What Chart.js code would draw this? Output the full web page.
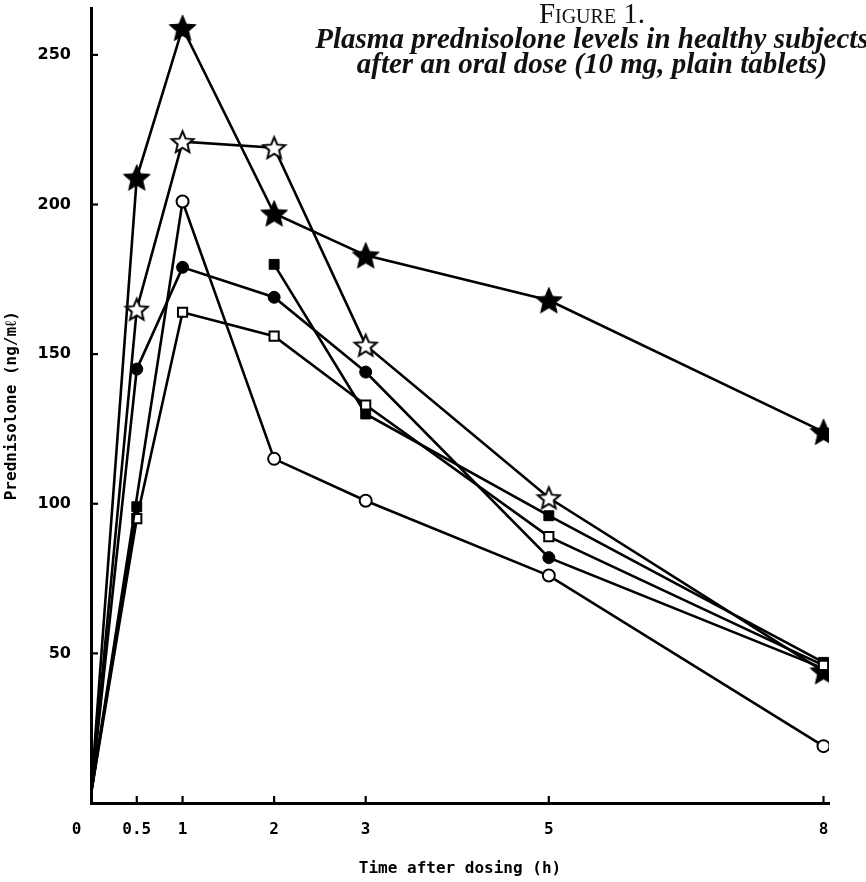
<!DOCTYPE html>
<html><head><meta charset="utf-8">
<script src="https://cdn.jsdelivr.net/npm/chart.js@4/dist/chart.umd.min.js"></script>
<style>
html,body{margin:0;padding:0;background:#fff;}
#wrap{position:relative;width:866px;height:882px;}
canvas{display:block;}
#title{position:absolute;left:292px;width:600px;top:0;text-align:center;font-family:"Liberation Serif","Times New Roman",serif;color:#111;}
#t1{font-variant:small-caps;font-size:29px;line-height:26px;margin-top:0px;}
.t2{font-weight:bold;font-style:italic;font-size:29px;line-height:25px;}
</style></head><body>
<div id="wrap"><canvas id="c" width="866" height="882"></canvas>
<div id="title"><div id="t1">Figure 1.</div><div class="t2">Plasma prednisolone levels in healthy subjects</div><div class="t2">after an oral dose (10 mg, plain tablets)</div></div></div>
<script>
// ---- data ----
const times = [0, 0.5, 1, 2, 3, 5, 8];
const filledStar   = [3, 209, 259, 197, 183, 168, 124];
const openStar     = [3, 165, 221, 219, 153, 102, 44];
const openCircle   = [3, null, 201, 115, 101, 76, 19];
const filledCircle = [3, 145, 179, 169, 144, 82, 45];
const filledSquare = [3, 99, null, 180, 130, 96, 47];
const openSquare   = [3, 95, 164, 156, 133, 89, 46];
const xTicks = [0, 0.5, 1, 2, 3, 5, 8];
const xTickLabels = ['0', '0.5', '1', '2', '3', '5', '8'];
const yTicks = [50, 100, 150, 200, 250];
const xTitle = 'Time after dosing (h)';
const yTitle = 'Prednisolone (ng/m\u2113)';

function star(size, filled, lw) {
  const c = document.createElement('canvas');
  c.width = c.height = size;
  const g = c.getContext('2d');
  const cx = size / 2, cy = size / 2 + size * 0.04;
  const R = size / 2 - lw, r = R * 0.45;
  g.beginPath();
  for (let i = 0; i < 10; i++) {
    const a = -Math.PI / 2 + i * Math.PI / 5;
    const rr = i % 2 ? r : R;
    const px = cx + rr * Math.cos(a), py = cy + rr * Math.sin(a);
    i ? g.lineTo(px, py) : g.moveTo(px, py);
  }
  g.closePath();
  g.fillStyle = filled ? '#000' : '#fff';
  g.fill();
  g.lineWidth = lw; g.strokeStyle = '#000'; g.lineJoin = 'miter';
  g.stroke();
  return c;
}
const bigStar = star(30, true, 1);
const hollowStar = star(27, false, 2);
const endStar = star(30, true, 1);

function pts(vals) { return times.map((t, i) => ({x: t, y: vals[i]})); }
function firstNone(style) { return times.map((t, i) => i === 0 ? false : style); }

const base = {borderColor: '#000', borderWidth: 2.6, showLine: true, tension: 0};
const datasets = [
  Object.assign({}, base, {label: 'open circle', data: pts(openCircle), spanGaps: true,
    pointStyle: firstNone('circle'), pointRadius: 6, pointBorderWidth: 2, pointBackgroundColor: '#fff', pointBorderColor: '#000'}),
  Object.assign({}, base, {label: 'open square', data: pts(openSquare),
    pointStyle: firstNone('rect'), pointRadius: 6.5, pointBorderWidth: 2, pointBackgroundColor: '#fff', pointBorderColor: '#000'}),
  Object.assign({}, base, {label: 'filled square', data: pts(filledSquare), spanGaps: false,
    pointStyle: firstNone('rect'), pointRadius: 7, pointBorderWidth: 1, pointBackgroundColor: '#000', pointBorderColor: '#000'}),
  Object.assign({}, base, {label: 'filled circle', data: pts(filledCircle),
    pointStyle: firstNone('circle'), pointRadius: 6, pointBorderWidth: 1, pointBackgroundColor: '#000', pointBorderColor: '#000'}),
  Object.assign({}, base, {label: 'open star', data: pts(openStar),
    pointStyle: times.map((t, i) => i === 0 ? false : (i === times.length - 1 ? endStar : hollowStar))}),
  Object.assign({}, base, {label: 'filled star', data: pts(filledStar),
    pointStyle: firstNone(bigStar)})
];

const inwardTicks = {
  id: 'inwardTicks',
  afterDatasetsDraw(chart) {
    const g = chart.ctx, xs = chart.scales.x, ys = chart.scales.y, a = chart.chartArea;
    g.save(); g.strokeStyle = '#000'; g.lineWidth = 2.2;
    xTicks.forEach(v => { if (v === 0) return; const p = xs.getPixelForValue(v);
      g.beginPath(); g.moveTo(p, a.bottom); g.lineTo(p, a.bottom - 7); g.stroke(); });
    yTicks.forEach(v => { const p = ys.getPixelForValue(v);
      g.beginPath(); g.moveTo(a.left, p); g.lineTo(a.left + 7, p); g.stroke(); });
    g.restore();
  }
};

new Chart(document.getElementById('c'), {
  type: 'scatter',
  data: {datasets},
  options: {
    responsive: false, animation: false, devicePixelRatio: 1,
    layout: {padding: {top: 5, right: 37, left: 0, bottom: 0}},
    plugins: {legend: {display: false}, tooltip: {enabled: false}, title: {display: false}},
    scales: {
      x: {
        type: 'linear', min: 0, max: 8.06,
        afterFit(s) { s.height = 79; s.paddingLeft = 0; s.paddingRight = 0; },
        afterBuildTicks(s) { s.ticks = xTicks.map(v => ({value: v})); },
        grid: {display: false, drawTicks: false},
        border: {display: true, color: '#000', width: 3},
        ticks: {
          padding: 17, color: '#000', maxRotation: 0, autoSkip: false,
          font: {family: 'DejaVu Sans Mono', weight: 'bold', size: 16},
          callback(v) { const i = xTicks.indexOf(v); const l = xTickLabels[i];
            return v === 0 ? l + '   ' : l; }
        },
        title: {display: true, text: xTitle, color: '#000', padding: {top: 0, bottom: 4},
          font: {family: 'DejaVu Sans Mono', weight: 'bold', size: 16}}
      },
      y: {
        type: 'linear', min: 0, max: 265.5,
        afterFit(s) { s.width = 91; s.paddingTop = 0; s.paddingBottom = 0; },
        afterBuildTicks(s) { s.ticks = yTicks.map(v => ({value: v})); },
        grid: {display: false, drawTicks: false},
        border: {display: true, color: '#000', width: 3},
        ticks: {padding: 20, color: '#000', font: {family: 'DejaVu Sans', weight: 'bold', size: 16}},
        title: {display: true, text: yTitle, color: '#000', padding: {top: 2, bottom: 0},
          font: {family: 'DejaVu Sans Mono', weight: 'bold', size: 16}}
      }
    }
  },
  plugins: [inwardTicks]
});
</script></body></html>
